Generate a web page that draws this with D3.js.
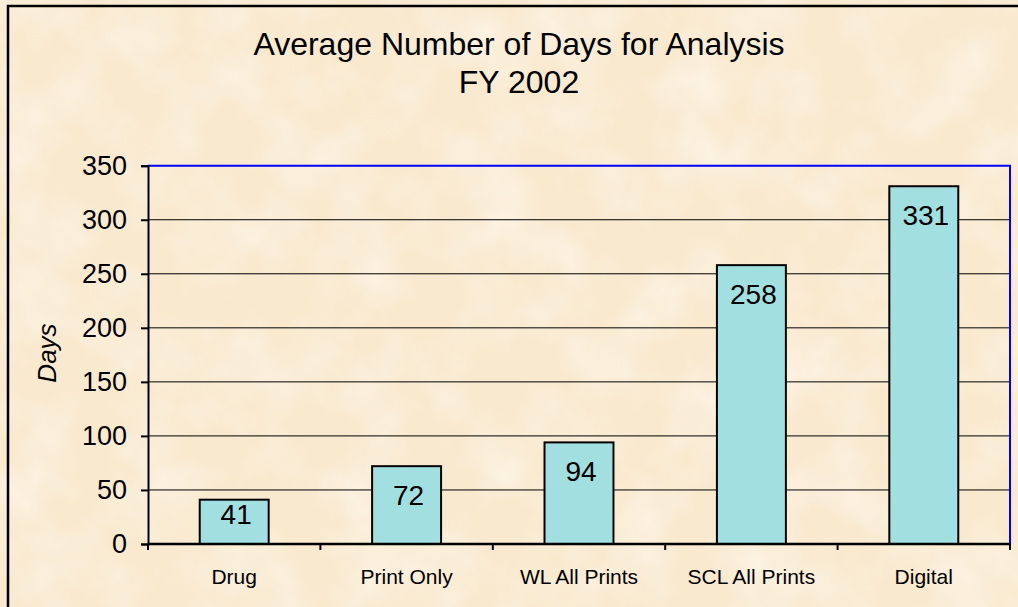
<!DOCTYPE html>
<html>
<head>
<meta charset="utf-8">
<script src="https://cdn.jsdelivr.net/npm/d3@7"></script>
<style>
  html, body { margin: 0; padding: 0; background: #fbecd3; }
  svg { display: block; font-family: "Liberation Sans", Arial, sans-serif; }
</style>
</head>
<body>
<div id="chart"></div>
<script>
var categories = ["Drug", "Print Only", "WL All Prints", "SCL All Prints", "Digital"];
var days = [41, 72, 94, 258, 331];
var yTicks = [0, 50, 100, 150, 200, 250, 300, 350];
var titleLines = ["Average Number of Days for Analysis", "FY 2002"];

var width = 1018, height = 607;
var plot = {left: 148, top: 165.7, right: 1010, bottom: 544};

var svg = d3.select("#chart").append("svg")
    .attr("width", width)
    .attr("height", height);

// parchment look
var defs = svg.append("defs");
var f = defs.append("filter").attr("id", "paper")
    .attr("x", 0).attr("y", 0).attr("width", "100%").attr("height", "100%");
f.append("feTurbulence")
    .attr("type", "fractalNoise")
    .attr("baseFrequency", 0.015)
    .attr("numOctaves", 4)
    .attr("seed", 7);
f.append("feColorMatrix")
    .attr("type", "matrix")
    .attr("values", "0 0 0 0 1  0 0 0 0 0.97  0 0 0 0 0.90  1.6 0 0 0 -0.65");
f.append("feComposite").attr("in2", "SourceGraphic").attr("operator", "in");

svg.append("rect")
    .attr("width", width).attr("height", height)
    .attr("fill", "#f9e9cf");
svg.append("rect")
    .attr("width", width).attr("height", height)
    .attr("fill", "#fff")
    .attr("filter", "url(#paper)")
    .attr("opacity", 0.7);

// chart area frame (runs off the right and bottom edge)
svg.append("rect")
    .attr("x", 8).attr("y", 6)
    .attr("width", 1040).attr("height", 640)
    .attr("fill", "none")
    .attr("stroke", "#000")
    .attr("stroke-width", 2.5);

var x = d3.scaleBand()
    .domain(categories)
    .range([plot.left, plot.right])
    .paddingInner(0.6)
    .paddingOuter(0.3);

var y = d3.scaleLinear()
    .domain([0, 350])
    .range([plot.bottom, plot.top]);

// gridlines
svg.append("g")
    .selectAll("line")
    .data(yTicks.filter(d => d > 0 && d < 350))
    .join("line")
    .attr("x1", plot.left).attr("x2", plot.right)
    .attr("y1", d => y(d)).attr("y2", d => y(d))
    .attr("stroke", "#000")
    .attr("stroke-width", 1);

// blue plot border, top and right
svg.append("path")
    .attr("d", "M" + plot.left + "," + y(350) + "H" + plot.right + "V" + plot.bottom)
    .attr("fill", "none")
    .attr("stroke", "#0000ff")
    .attr("stroke-width", 2);

// bars
svg.append("g")
    .selectAll("rect")
    .data(days)
    .join("rect")
    .attr("x", (d, i) => x(categories[i]))
    .attr("y", d => y(d))
    .attr("width", x.bandwidth())
    .attr("height", d => y(0) - y(d))
    .attr("fill", "#a2dfe0")
    .attr("stroke", "#000")
    .attr("stroke-width", 2);

// value labels, inside end
svg.append("g")
    .selectAll("text")
    .data(days)
    .join("text")
    .attr("x", (d, i) => x(categories[i]) + x.bandwidth() / 2 + 2)
    .attr("y", d => Math.min(y(d) + 39, y(0) - 20))
    .attr("text-anchor", "middle")
    .attr("font-size", 28)
    .attr("fill", "#000")
    .text(d => d);

// y axis
var yAxis = svg.append("g")
    .attr("transform", "translate(" + plot.left + ",0)")
    .call(d3.axisLeft(y).tickValues(yTicks).tickSize(7).tickPadding(14));
yAxis.select(".domain").attr("stroke-width", 2);
yAxis.selectAll(".tick line").attr("stroke-width", 2);
yAxis.selectAll(".tick text")
    .attr("font-size", 27)
    .attr("font-family", "Liberation Sans, Arial, sans-serif")
    .attr("fill", "#000")
    .attr("dy", "0.32em");

// x axis, ticks on category boundaries
var bounds = d3.range(categories.length + 1).map(i => plot.left + i * x.step());
var xAxis = svg.append("g");
xAxis.append("line")
    .attr("x1", plot.left).attr("x2", plot.right)
    .attr("y1", plot.bottom).attr("y2", plot.bottom)
    .attr("stroke", "#000").attr("stroke-width", 2.5);
xAxis.selectAll(".xt")
    .data(bounds)
    .join("line")
    .attr("class", "xt")
    .attr("x1", d => d).attr("x2", d => d)
    .attr("y1", plot.bottom).attr("y2", plot.bottom + 6)
    .attr("stroke", "#000").attr("stroke-width", 2);
xAxis.selectAll("text")
    .data(categories)
    .join("text")
    .attr("x", d => x(d) + x.bandwidth() / 2)
    .attr("y", 584)
    .attr("text-anchor", "middle")
    .attr("font-size", 21)
    .attr("fill", "#000")
    .text(d => d);

// axis title
svg.append("text")
    .attr("transform", "translate(56,353) rotate(-90)")
    .attr("text-anchor", "middle")
    .attr("font-size", 26)
    .attr("font-style", "italic")
    .text("Days");

// chart title
svg.append("g")
    .selectAll("text")
    .data(titleLines)
    .join("text")
    .attr("x", 519)
    .attr("y", (d, i) => 55 + i * 38)
    .attr("text-anchor", "middle")
    .attr("font-size", 32)
    .text(d => d);
</script>
</body>
</html>
